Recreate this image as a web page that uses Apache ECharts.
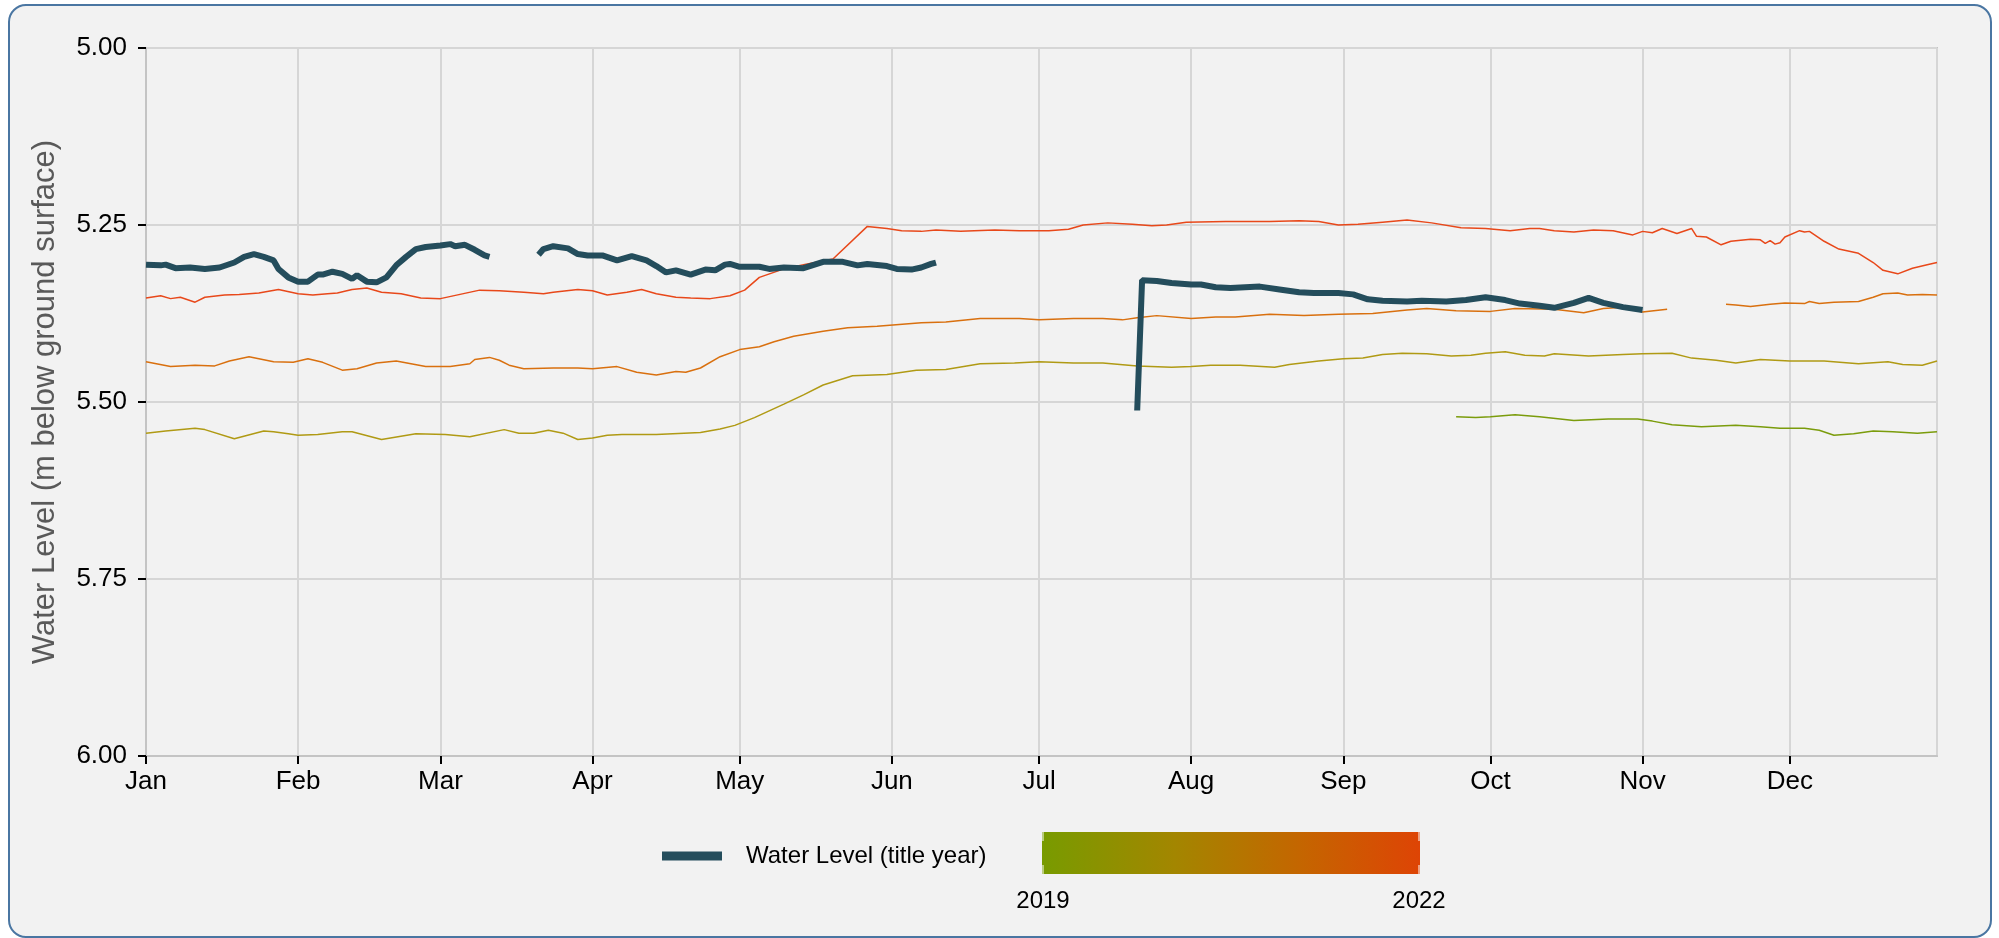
<!DOCTYPE html>
<html>
<head>
<meta charset="utf-8">
<title>Water Level</title>
<script src="https://cdn.jsdelivr.net/npm/echarts@6/dist/echarts.min.js"></script>
<style>
    html, body { margin: 0; padding: 0; background: #ffffff; }
    #frame {
        position: absolute; left: 8px; top: 4px;
        width: 1980px; height: 930px;
        border: 2px solid #4a76a2; border-radius: 18px;
        background: #f2f2f2;
    }
    #chart_wl { position: absolute; left: 0; top: 0; width: 1999px; height: 938px; }
</style>
</head>
<body>
<div id="frame"></div>
<div id="chart_wl"></div>
<script>
// 显示年份 (全部序列画在同一年上, 闰年)
var titleYear = '2024';

// 月份标签
var monthNames = ['Jan', 'Feb', 'Mar', 'Apr', 'May', 'Jun', 'Jul', 'Aug', 'Sep', 'Oct', 'Nov', 'Dec'];

// y 轴刻度
var yTicks = [5.00, 5.25, 5.50, 5.75, 6.00];

// 图例色条年份
var rampYears = ['2019', '2022'];

// 标题年份水位 ('-' = 断开)
var wlTitle = [
    ['01-01',5.306],['01-04',5.307],['01-05',5.306],['01-07',5.311],['01-10',5.310],['01-13',5.312],
    ['01-16',5.310],['01-19',5.303],['01-21',5.295],['01-23',5.291],['01-25',5.295],['01-27',5.300],
    ['01-28',5.312],['01-30',5.324],['02-01',5.330],['02-03',5.330],['02-05',5.320],['02-06',5.320],
    ['02-08',5.316],['02-10',5.319],['02-12',5.326],['02-13',5.321],['02-15',5.330],['02-17',5.331],
    ['02-19',5.324],['02-21',5.307],['02-23',5.295],['02-25',5.284],['02-27',5.281],['03-01',5.279],
    ['03-03',5.277],['03-04',5.280],['03-06',5.278],['03-08',5.285],['03-10',5.293],['03-11',5.295],
    ['03-15','-'],
    ['03-21',5.292],['03-22',5.284],['03-24',5.280],['03-27',5.283],['03-29',5.291],['03-31',5.293],
    ['04-03',5.293],['04-06',5.300],['04-09',5.294],['04-12',5.300],['04-14',5.308],['04-16',5.317],
    ['04-18',5.314],['04-21',5.320],['04-24',5.313],['04-26',5.314],['04-28',5.306],['04-29',5.305],
    ['05-01',5.309],['05-05',5.309],['05-07',5.312],['05-10',5.310],['05-14',5.311],['05-18',5.302],
    ['05-22',5.302],['05-25',5.307],['05-27',5.305],['05-31',5.308],['06-02',5.312],['06-05',5.313],
    ['06-07',5.310],['06-09',5.305],['06-10',5.303],
    ['07-01','-'],
    ['07-21',5.512],['07-22',5.328],['07-25',5.329],['07-28',5.332],['08-01',5.334],['08-03',5.334],
    ['08-06',5.338],['08-09',5.339],['08-12',5.338],['08-15',5.337],['08-19',5.341],['08-23',5.345],
    ['08-26',5.346],['08-31',5.346],['09-03',5.348],['09-06',5.355],['09-09',5.357],['09-14',5.358],
    ['09-17',5.357],['09-22',5.358],['09-26',5.356],['09-30',5.352],['10-04',5.356],['10-07',5.361],
    ['10-11',5.364],['10-14',5.367],['10-18',5.360],['10-21',5.353],['10-24',5.360],['10-28',5.366],
    ['11-01',5.370]
];

// 2022
var wl2022 = [
    ['01-01',5.353],['01-04',5.350],['01-06',5.354],['01-08',5.352],['01-11',5.359],['01-13',5.352],
    ['01-17',5.349],['01-20',5.348],['01-24',5.346],['01-28',5.341],['02-01',5.347],['02-04',5.349],
    ['02-07',5.347],['02-09',5.346],['02-12',5.341],['02-15',5.339],['02-18',5.345],['02-22',5.347],
    ['02-26',5.353],['03-01',5.354],['03-05',5.348],['03-09',5.342],['03-13',5.343],['03-18',5.345],
    ['03-22',5.347],['03-24',5.345],['03-29',5.341],['04-01',5.343],['04-04',5.349],['04-08',5.345],
    ['04-11',5.341],['04-14',5.347],['04-18',5.352],['04-21',5.353],['04-25',5.354],['04-29',5.350],
    ['05-02',5.342],['05-05',5.324],['05-10',5.312],['05-14',5.306],['05-20',5.298],['05-27',5.252],
    ['05-31',5.255],['06-03',5.258],['06-07',5.259],['06-10',5.257],['06-15',5.259],['06-22',5.257],
    ['06-27',5.258],['07-03',5.258],['07-07',5.256],['07-10',5.250],['07-15',5.247],['07-20',5.249],
    ['07-24',5.251],['07-27',5.250],['07-31',5.246],['08-08',5.245],['08-17',5.245],['08-23',5.244],
    ['08-27',5.245],['08-31',5.250],['09-04',5.249],['09-09',5.246],['09-14',5.243],['09-19',5.247],
    ['09-25',5.254],['09-30',5.255],['10-05',5.258],['10-09',5.255],['10-11',5.255],['10-14',5.258],
    ['10-18',5.260],['10-22',5.257],['10-26',5.258],['10-30',5.264],['11-01',5.259],['11-03',5.261],
    ['11-05',5.255],['11-08',5.262],['11-11',5.255],['11-12',5.266],['11-14',5.267],['11-17',5.278],
    ['11-19',5.273],['11-23',5.270],['11-25',5.271],['11-26',5.276],['11-27',5.272],['11-28',5.277],
    ['11-29',5.275],['11-30',5.267],['12-03',5.258],['12-04',5.260],['12-05',5.259],['12-08',5.273],
    ['12-11',5.284],['12-15',5.290],['12-18',5.303],['12-20',5.314],['12-23',5.319],['12-26',5.311],
    ['12-29',5.306],['12-31',5.303]
];

// 2021
var wl2021 = [
    ['01-01',5.443],['01-06',5.450],['01-11',5.448],['01-15',5.449],['01-18',5.442],['01-22',5.436],
    ['01-27',5.443],['01-31',5.444],['02-03',5.439],['02-06',5.444],['02-10',5.455],['02-13',5.453],
    ['02-17',5.445],['02-21',5.442],['02-24',5.446],['02-27',5.450],['03-03',5.450],['03-07',5.446],
    ['03-08',5.440],['03-11',5.437],['03-13',5.441],['03-15',5.448],['03-18',5.453],['03-24',5.452],
    ['03-29',5.452],['04-01',5.453],['04-06',5.450],['04-10',5.458],['04-14',5.462],['04-18',5.457],
    ['04-20',5.458],['04-23',5.452],['04-27',5.436],['05-01',5.426],['05-05',5.422],['05-08',5.415],
    ['05-12',5.407],['05-18',5.400],['05-23',5.395],['05-29',5.393],['06-07',5.388],['06-12',5.387],
    ['06-19',5.382],['06-27',5.382],['07-01',5.384],['07-08',5.382],['07-14',5.382],['07-18',5.384],
    ['07-21',5.381],['07-25',5.378],['08-01',5.382],['08-06',5.380],['08-10',5.380],['08-17',5.376],
    ['08-24',5.378],['08-31',5.376],['09-07',5.375],['09-14',5.370],['09-18',5.368],['09-24',5.371],
    ['10-01',5.372],['10-06',5.368],['10-14',5.369],['10-20',5.374],['10-24',5.368],['10-28',5.366],
    ['11-01',5.373],['11-06',5.369],
    ['11-12','-'],
    ['11-18',5.362],['11-20',5.363],['11-23',5.365],['11-27',5.362],['11-30',5.360],['12-04',5.361],
    ['12-05',5.358],['12-07',5.361],['12-10',5.359],['12-15',5.358],['12-18',5.352],['12-20',5.347],
    ['12-23',5.346],['12-25',5.349],['12-28',5.348],['12-31',5.349]
];

// 2020
var wl2020 = [
    ['01-01',5.544],['01-05',5.541],['01-11',5.537],['01-13',5.539],['01-19',5.552],['01-25',5.541],
    ['01-27',5.542],['01-30',5.545],['02-01',5.547],['02-05',5.546],['02-10',5.542],['02-12',5.542],
    ['02-18',5.553],['02-25',5.545],['03-02',5.546],['03-07',5.549],['03-14',5.539],['03-17',5.544],
    ['03-20',5.544],['03-23',5.540],['03-26',5.544],['03-29',5.553],['04-01',5.551],['04-04',5.547],
    ['04-07',5.546],['04-14',5.546],['04-23',5.543],['04-27',5.538],['04-30',5.533],['05-04',5.522],
    ['05-10',5.503],['05-14',5.490],['05-18',5.476],['05-24',5.463],['05-31',5.461],['06-06',5.455],
    ['06-12',5.454],['06-19',5.446],['06-26',5.445],['07-01',5.443],['07-08',5.445],['07-14',5.445],
    ['07-21',5.449],['07-28',5.451],['08-01',5.450],['08-05',5.448],['08-11',5.448],['08-18',5.451],
    ['08-21',5.447],['08-27',5.442],['09-01',5.439],['09-05',5.438],['09-09',5.433],['09-13',5.431],
    ['09-18',5.432],['09-23',5.435],['09-27',5.434],['09-30',5.431],['10-04',5.429],['10-08',5.434],
    ['10-12',5.435],['10-14',5.432],['10-21',5.435],['10-28',5.433],['11-01',5.432],['11-07',5.431],
    ['11-11',5.438],['11-16',5.441],['11-20',5.445],['11-25',5.440],['12-01',5.442],['12-08',5.442],
    ['12-15',5.446],['12-21',5.443],['12-24',5.447],['12-28',5.448],['12-31',5.442]
];

// 2019
var wl2019 = [
    ['09-24',5.521],['09-28',5.522],['10-01',5.521],['10-06',5.518],['10-11',5.521],['10-18',5.526],
    ['10-25',5.524],['10-31',5.524],['11-03',5.527],['11-07',5.532],['11-13',5.535],['11-20',5.533],
    ['11-25',5.535],['11-29',5.537],['12-04',5.537],['12-07',5.540],['12-10',5.547],['12-14',5.545],
    ['12-18',5.541],['12-22',5.542],['12-27',5.544],['12-31',5.542]
];

var fontName = 'Liberation Sans, Arial, sans-serif';

// 把 MM-DD 放到标题年份上
var toSeries = function(arr) {
    return arr.map(function(t) {
        return [titleYear + '-' + t[0], t[1]];
    });
};

var bgLine = function(name, arr, color) {
    return {
        name: name,
        type: 'line',
        data: toSeries(arr),
        showSymbol: false,
        symbol: 'none',
        silent: true,
        lineStyle: { color: color, width: 1.5 },
        itemStyle: { color: color }
    };
};

var chart = echarts.init(document.getElementById('chart_wl'));

var option = {
    animation: false,
    backgroundColor: 'transparent',
    textStyle: { fontFamily: fontName },
    grid: {
        left: 146,
        right: 62,
        top: 48,
        bottom: 182,
        show: true,
        borderColor: '#c4c4c4',
        borderWidth: 2,
        backgroundColor: 'transparent'
    },
    legend: {
        data: ['Water Level (title year)'],
        left: 657,
        top: 839,
        icon: 'rect',
        itemWidth: 60,
        itemHeight: 9,
        textStyle: {
            fontSize: 24,
            color: '#000',
            fontFamily: fontName,
            padding: [0, 0, 0, 19]
        }
    },
    xAxis: {
        type: 'time',
        min: titleYear + '-01-01',
        max: titleYear + '-12-31',
        splitNumber: 12,
        maxInterval: 31 * 86400000,
        axisLine: { lineStyle: { color: '#c4c4c4', width: 2 } },
        axisTick: { show: true, length: 8, lineStyle: { color: '#000', width: 2 } },
        axisLabel: {
            fontSize: 26,
            color: '#000',
            margin: 13,
            fontFamily: fontName,
            formatter: function(val) {
                return monthNames[new Date(val).getMonth()];
            }
        },
        splitLine: { show: true, lineStyle: { color: '#d6d6d6', width: 2 } }
    },
    yAxis: {
        type: 'value',
        inverse: true,
        min: yTicks[0],
        max: yTicks[yTicks.length - 1],
        interval: yTicks[1] - yTicks[0],
        name: 'Water Level (m below ground surface)',
        nameLocation: 'middle',
        nameGap: 85,
        nameTextStyle: { fontSize: 31, color: '#595959', fontFamily: fontName },
        axisLine: { show: true, lineStyle: { color: '#c4c4c4', width: 2 } },
        axisTick: { show: true, length: 8, lineStyle: { color: '#000', width: 2 } },
        axisLabel: {
            fontSize: 26,
            color: '#000',
            margin: 19,
            fontFamily: fontName,
            formatter: function(v) { return v.toFixed(2); }
        },
        splitLine: { show: true, lineStyle: { color: '#d6d6d6', width: 2 } }
    },
    graphic: [
        {
            type: 'rect',
            shape: { x: 1042, y: 832, width: 378, height: 42 },
            style: {
                fill: new echarts.graphic.LinearGradient(0, 0, 1, 0, [
                    { offset: 0, color: '#789b00' },
                    { offset: 0.35, color: '#a38600' },
                    { offset: 0.68, color: '#c46600' },
                    { offset: 1, color: '#de4405' }
                ])
            }
        },
        { type: 'line', shape: { x1: 1043, y1: 832, x2: 1043, y2: 841 }, style: { stroke: '#fff', lineWidth: 1 } },
        { type: 'line', shape: { x1: 1043, y1: 865, x2: 1043, y2: 874 }, style: { stroke: '#fff', lineWidth: 1 } },
        { type: 'line', shape: { x1: 1419, y1: 832, x2: 1419, y2: 841 }, style: { stroke: '#fff', lineWidth: 1 } },
        { type: 'line', shape: { x1: 1419, y1: 865, x2: 1419, y2: 874 }, style: { stroke: '#fff', lineWidth: 1 } },
        {
            type: 'text', x: 1043, y: 901,
            style: { text: rampYears[0], fontSize: 24, fill: '#000', font: '24px ' + fontName, textAlign: 'center', textVerticalAlign: 'middle' }
        },
        {
            type: 'text', x: 1419, y: 901,
            style: { text: rampYears[1], fontSize: 24, fill: '#000', font: '24px ' + fontName, textAlign: 'center', textVerticalAlign: 'middle' }
        }
    ],
    series: [
        bgLine('2019', wl2019, '#7b9c0c'),
        bgLine('2020', wl2020, '#b09a14'),
        bgLine('2021', wl2021, '#d9700f'),
        bgLine('2022', wl2022, '#e8481a'),
        {
            name: 'Water Level (title year)',
            type: 'line',
            data: toSeries(wlTitle),
            showSymbol: false,
            symbol: 'none',
            z: 5,
            lineStyle: { color: '#244d5c', width: 6 },
            itemStyle: { color: '#244d5c' }
        }
    ]
};

chart.setOption(option);
</script>
</body>
</html>
